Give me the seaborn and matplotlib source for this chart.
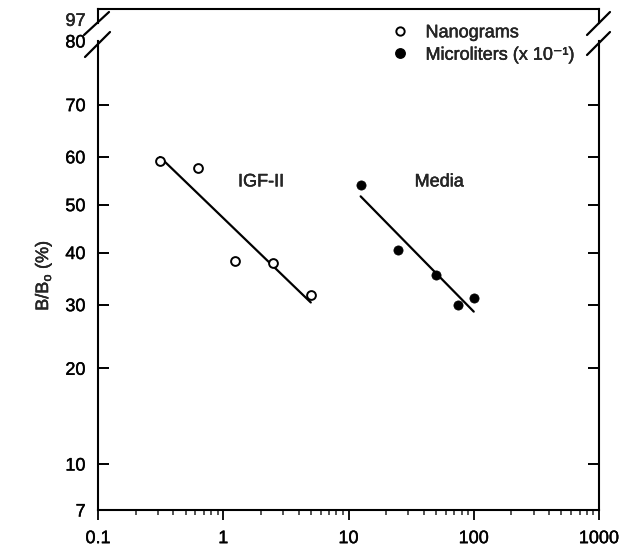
import numpy as np
import matplotlib
matplotlib.use("Agg")
import matplotlib.pyplot as plt
import matplotlib.patheffects as pe
import seaborn as sns
from matplotlib.lines import Line2D
from matplotlib.ticker import NullLocator, FixedLocator, NullFormatter

# ---- data ----
ng_x = [0.3125, 0.625, 1.25, 2.5, 5.0]          # Nanograms (IGF-II)
ng_y = [59.2, 57.6, 38.2, 37.9, 31.7]           # B/Bo %
ul_x = [12.5, 25, 50, 75, 100]                  # Microliters x 10^-1 (Media)
ul_y = [54.2, 40.6, 35.6, 30.0, 31.2]           # B/Bo %
y_ticks = [7, 10, 20, 30, 40, 50, 60, 70, 80]
x_ticks = [0.1, 1, 10, 100, 1000]
x_tick_labels = ["0.1", "1", "10", "100", "1000"]
top_tick = [97]
series_labels = ["Nanograms", "Microliters (x 10\u207b\u00b9)"]
curve_labels = ["IGF-II", "Media"]
curve_label_pos = [(2.0, 54.8), (53.0, 54.8)]

sns.set_style("ticks")
plt.rcParams["font.family"] = ["Liberation Sans", "DejaVu Sans"]
plt.rcParams["mathtext.fontset"] = "custom"
plt.rcParams["mathtext.rm"] = "Liberation Sans"

FS = 13
W, H = 629, 548
fig = plt.figure(figsize=(W / 100, H / 100), dpi=100)
heavy = [pe.withStroke(linewidth=0.3, foreground="black")]


def fwd(p):
    p = np.clip(np.asarray(p, dtype=float), 0.01, 99.99)
    return np.log(p / (100 - p))


def inv(z):
    return 100.0 / (1.0 + np.exp(-np.asarray(z, dtype=float)))


def fig_rect(l, t, r, b):
    return [l / W, 1 - b / H, (r - l) / W, (b - t) / H]


ax = fig.add_axes(fig_rect(98, 41, 599, 510))
ax_top = fig.add_axes(fig_rect(98, 9, 599, 23))

for a in (ax, ax_top):
    for s in a.spines.values():
        s.set_linewidth(1.5)
        s.set_color("black")

ax.set_xscale("log")
ax.set_yscale("function", functions=(fwd, inv))
ax.set_xlim(0.1, 1000)
ax.set_ylim(7, 80)


def fit_line(x, y):
    lx = np.log10(x)
    ly = fwd(y)
    b, a = np.polyfit(lx, ly, 1)
    xs = np.array([min(x), max(x)])
    return xs, inv(a + b * np.log10(xs))


for xs, ys in (fit_line(ng_x, ng_y), fit_line(ul_x, ul_y)):
    sns.lineplot(x=xs, y=ys, ax=ax, color="black", linewidth=1.6, legend=False)

sns.scatterplot(x=ng_x, y=ng_y, ax=ax, color="white", edgecolor="black",
                s=40, linewidth=1.4, legend=False, zorder=5)
sns.scatterplot(x=ul_x, y=ul_y, ax=ax, color="black", edgecolor="black",
                s=44, linewidth=0.5, legend=False, zorder=5)

for lab, (tx, ty) in zip(curve_labels, curve_label_pos):
    ax.text(tx, ty, lab, ha="center", va="center", fontsize=FS,
            path_effects=heavy)

# axes ticks
ax.yaxis.set_major_locator(FixedLocator(y_ticks))
ax.yaxis.set_minor_locator(NullLocator())
ax.set_yticklabels([str(v) for v in y_ticks])
ax.tick_params(axis="y", which="major", direction="in", left=True, right=True,
               length=8, width=1.4, pad=9, labelsize=FS, colors="black")
for t, v in zip(ax.yaxis.get_major_ticks(), y_ticks):
    if v in (7, 80):
        t.tick1line.set_visible(False)
        t.tick2line.set_visible(False)

ax.set_xticks(x_ticks)
ax.set_xticklabels(x_tick_labels)
ax.xaxis.set_minor_formatter(NullFormatter())
ax.tick_params(axis="x", which="major", direction="out", length=7.5, width=1.3,
               pad=7, labelsize=FS, colors="black")
ax.tick_params(axis="x", which="minor", direction="out", length=3.5, width=1.1)
ax.spines["top"].set_visible(False)

ax.set_ylabel("B/B$_\\mathregular{o}$ (%)", fontsize=FS, labelpad=8)
ax.set_xlabel("")

# top (broken) segment
ax_top.set_xscale("log")
ax_top.set_xlim(0.1, 1000)
ax_top.set_ylim(96.3, 99)
ax_top.set_yticks(top_tick)
ax_top.set_yticklabels([str(v) for v in top_tick])
ax_top.set_xticks([])
ax_top.xaxis.set_minor_locator(NullLocator())
ax_top.tick_params(axis="y", length=0, pad=9, labelsize=FS)
ax_top.spines["bottom"].set_visible(False)
ax_top.patch.set_alpha(0)

for t in (ax.get_xticklabels() + ax.get_yticklabels() + ax_top.get_yticklabels()
          + [ax.yaxis.label]):
    t.set_path_effects(heavy)

# break marks
for x0, y0, x1, y1 in [(84, 35, 109, 12), (85, 57, 110, 32),
                       (587, 35, 610, 12), (587, 55, 610, 32)]:
    fig.add_artist(Line2D([x0 / W, x1 / W], [1 - y0 / H, 1 - y1 / H],
                          transform=fig.transFigure, color="black", lw=1.6))

# legend
handles = [
    Line2D([], [], ls="", marker="o", mfc="white", mec="black", ms=6, mew=1.4),
    Line2D([], [], ls="", marker="o", mfc="black", mec="black", ms=6.8),
]
leg = fig.legend(handles, series_labels, loc="center left",
                 bbox_to_anchor=(393 / W, 1 - 44 / H), frameon=False,
                 fontsize=FS, handlelength=0.8, handletextpad=1.0,
                 labelspacing=0.3, borderpad=0, borderaxespad=0)
for t in leg.get_texts():
    t.set_path_effects(heavy)

fig.savefig("out.png", dpi=100)
